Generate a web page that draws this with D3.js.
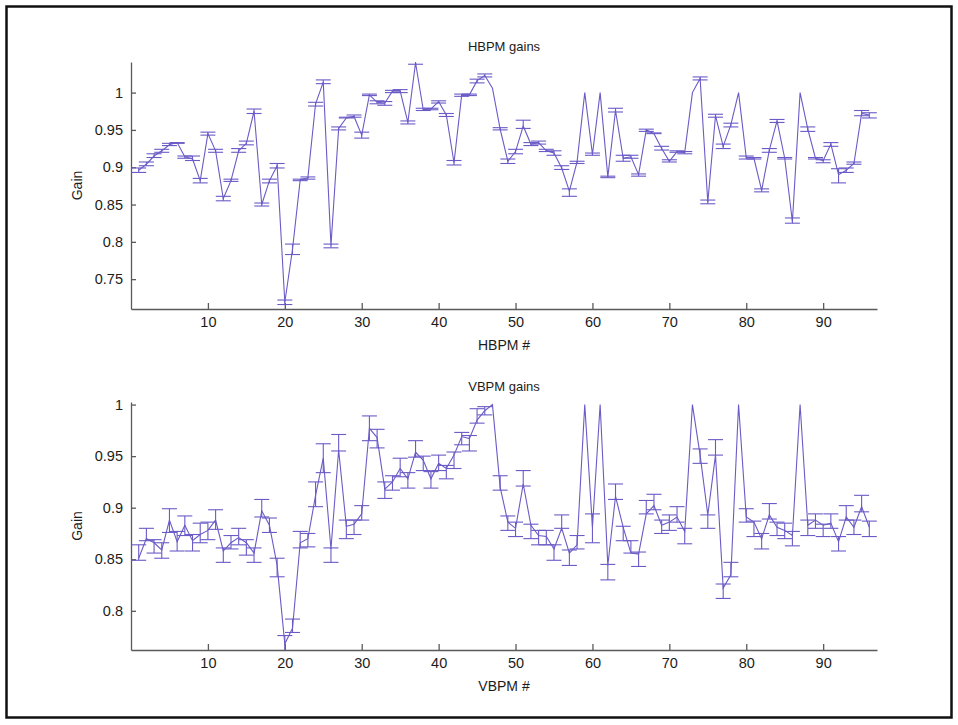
<!DOCTYPE html>
<meta charset="utf-8">
<script src="https://d3js.org/d3.v7.min.js"></script>
<style>
  body { margin: 0; background: #fff; }
  text { font-family: "Liberation Sans", Arial, Helvetica, sans-serif; fill: #1c1c1c; }
  .axis path, .axis line { stroke: #5a5a5a; stroke-width: 1.3px; }
  .axis text { font-size: 14.5px; fill: #1c1c1c; }
</style>
<div id="chart"></div>
<script>

// BPM index (x axis) and tick labels
var bpm = d3.range(1, 97);
var xTicks = [10, 20, 30, 40, 50, 60, 70, 80, 90];
var hTicks = [0.75, 0.8, 0.85, 0.9, 0.95, 1];
var vTicks = [0.8, 0.85, 0.9, 0.95, 1];

// HBPM gains, lower / upper end of error bar (null = no error bar)
var hGain = [0.896,0.904,0.915,0.922,0.930,0.933,0.914,0.911,0.882,0.945,
             0.922,0.858,0.882,0.922,0.932,0.975,0.850,0.882,0.902,0.719,
             0.790,0.883,0.886,0.985,1.014,0.795,0.952,0.966,0.968,0.943,
             0.997,0.987,0.986,1.002,1.002,0.960,1.040,0.977,0.978,0.988,
             0.970,0.906,0.997,0.997,1.016,1.023,1.006,0.951,0.908,0.921,
             0.955,0.931,0.933,0.922,0.919,0.899,0.868,0.907,1.000,0.917,
             1.000,0.887,0.976,0.912,0.914,0.890,0.950,0.945,0.925,0.908,
             0.921,0.920,1.000,1.019,0.853,0.969,0.928,0.957,1.000,0.913,
             0.912,0.869,0.923,0.962,0.912,0.827,1.000,0.951,0.912,0.909,
             0.931,0.890,0.896,0.905,0.972,0.970];
var hLow  = [0.893,0.902,0.913,0.920,0.929,0.932,0.912,0.909,0.879,0.943,
             0.920,0.855,0.881,0.920,0.930,0.972,0.848,0.879,0.899,0.716,
             0.783,0.882,0.884,0.982,1.012,0.792,0.950,0.966,0.967,0.939,
             0.996,0.985,0.983,1.000,1.000,0.958,1.038,0.976,0.977,0.986,
             0.968,0.903,0.995,0.996,1.013,1.021,null,0.950,0.905,0.918,
             0.952,0.929,0.931,0.921,0.916,0.897,0.861,0.905,null,0.916,
             null,0.886,0.974,0.908,0.912,0.888,0.948,0.945,0.923,0.907,
             0.920,0.918,null,1.017,0.851,0.967,0.925,0.954,null,0.911,
             0.911,0.867,0.920,0.960,0.911,0.825,null,0.948,0.911,0.906,
             0.928,0.879,0.893,0.904,0.969,0.966];
var hHigh = [0.899,0.907,0.918,0.924,0.932,0.933,0.915,0.915,0.885,0.947,
             0.924,0.861,0.884,0.925,0.935,0.978,0.852,0.884,0.905,0.722,
             0.797,0.884,0.887,0.987,1.017,0.797,0.954,0.967,0.970,0.947,
             0.998,0.989,0.988,1.003,1.004,0.962,1.042,0.979,0.979,0.989,
             0.972,0.909,0.998,0.998,1.018,1.025,null,0.953,0.911,0.924,
             0.963,0.933,0.935,0.924,0.922,0.902,0.871,0.908,null,0.919,
             null,0.888,0.979,0.916,0.916,0.891,0.951,0.946,0.928,0.910,
             0.922,0.921,null,1.021,0.856,0.971,0.931,0.959,null,0.915,
             0.913,0.871,0.925,0.964,0.913,0.832,null,0.954,0.913,0.910,
             0.933,0.898,0.899,0.907,0.976,0.973];

// VBPM gains, lower / upper end of error bar
var vGain = [0.851,0.870,0.866,0.859,0.888,0.867,0.883,0.868,0.874,0.878,
             0.888,0.858,0.866,0.871,0.866,0.856,0.897,0.883,0.844,0.768,
             0.783,0.866,0.870,0.912,0.948,0.860,0.956,0.882,0.884,0.894,
             0.977,0.968,0.918,0.925,0.938,0.928,0.954,0.946,0.928,0.943,
             0.938,0.951,0.969,0.967,0.985,0.994,1.000,0.920,0.886,0.880,
             0.923,0.883,0.873,0.872,0.860,0.880,0.856,0.864,1.000,0.881,
             1.000,0.844,0.911,0.881,0.856,0.855,0.894,0.902,0.883,0.886,
             0.891,0.877,1.000,0.951,0.893,0.951,0.822,0.835,1.000,0.891,
             0.886,0.870,0.893,0.881,0.878,0.873,1.000,0.883,0.888,0.883,
             0.885,0.867,0.891,0.881,0.901,0.881];
var vLow  = [0.849,0.868,0.856,0.851,0.876,0.858,0.873,0.858,0.866,0.869,
             0.879,0.847,0.860,0.864,0.854,0.847,0.891,0.876,0.833,0.760,
             0.779,0.861,0.862,0.901,0.934,0.847,0.955,0.870,0.874,0.888,
             0.965,0.958,0.909,0.917,0.930,0.919,0.949,0.936,0.919,0.936,
             0.928,0.938,0.961,0.955,0.982,0.990,null,0.917,0.878,0.872,
             0.921,0.870,0.864,0.864,0.849,0.880,0.844,0.860,null,0.866,
             null,0.830,0.908,0.868,0.856,0.843,0.894,0.898,0.875,0.878,
             0.886,0.865,null,0.943,0.880,0.951,0.812,0.833,null,0.886,
             0.872,0.860,0.889,0.873,0.870,0.863,null,0.873,0.880,0.872,
             0.880,0.858,0.888,0.874,0.896,0.872];
var vHigh = [0.864,0.880,0.869,0.866,0.899,0.877,0.892,0.874,0.885,0.886,
             0.898,0.861,0.873,0.880,0.869,0.861,0.908,0.890,0.851,0.776,
             0.792,0.877,0.875,0.925,0.962,0.861,0.971,0.888,0.888,0.902,
             0.989,0.976,0.925,0.931,0.948,0.934,0.965,0.950,0.935,0.951,
             0.941,0.954,0.973,0.970,0.996,0.998,null,0.931,0.892,0.886,
             0.936,0.884,0.878,0.878,0.864,0.893,0.859,0.873,null,0.894,
             null,0.845,0.923,0.882,0.868,0.857,0.907,0.913,0.888,0.893,
             0.901,0.880,null,0.957,0.893,0.966,0.826,0.847,null,0.899,
             0.887,0.875,0.904,0.886,0.885,0.877,null,0.888,0.894,0.884,
             0.894,0.872,0.902,0.888,0.912,0.887];

var W = 958, H = 725;
var lineColor = "#6a5bc6";

var svg = d3.select("#chart")
  .append("svg")
    .attr("width", W)
    .attr("height", H);

// outer frame
svg.append("rect")
  .attr("x", 6.5).attr("y", 6.5)
  .attr("width", 945).attr("height", 711)
  .attr("fill", "#fff")
  .attr("stroke", "#111")
  .attr("stroke-width", 2.5);

function drawPanel(p) {
  var x = d3.scaleLinear().domain([0, 97]).range([131, 877]);
  var y = d3.scaleLinear().domain(p.yDomain).range([p.bottom, p.top]);

  var g = svg.append("g");

  g.append("clipPath").attr("id", p.id)
    .append("rect")
      .attr("x", 131).attr("y", p.top)
      .attr("width", 746).attr("height", p.bottom - p.top);

  // axes, ticks pointing inwards
  g.append("g")
    .attr("class", "axis")
    .attr("transform", "translate(131,0)")
    .call(d3.axisLeft(y).tickValues(p.yTicks).tickSizeInner(-5).tickSizeOuter(0)
      .tickPadding(8).tickFormat(function(d) { return String(d); }));

  g.append("g")
    .attr("class", "axis")
    .attr("transform", "translate(0," + p.bottom + ")")
    .call(d3.axisBottom(x).tickValues(xTicks).tickSizeInner(-6).tickSizeOuter(0)
      .tickPadding(8));

  g.selectAll(".axis .domain").attr("stroke", "#5a5a5a");

  var plot = g.append("g").attr("clip-path", "url(#" + p.id + ")");

  // gain line
  var line = d3.line()
    .x(function(d, i) { return x(bpm[i]); })
    .y(function(d) { return y(d); });

  plot.append("path")
    .datum(p.gain)
    .attr("fill", "none")
    .attr("stroke", lineColor)
    .attr("stroke-width", 1.1)
    .attr("d", line);

  // error bars
  var bars = bpm.map(function(b, i) { return {x: b, lo: p.low[i], hi: p.high[i]}; })
    .filter(function(d) { return d.lo != null; });

  var eb = plot.append("g")
    .attr("stroke", lineColor)
    .attr("stroke-width", 1.1)
    .selectAll("g")
    .data(bars)
    .enter().append("g");

  eb.append("line")
    .attr("x1", function(d) { return x(d.x); })
    .attr("x2", function(d) { return x(d.x); })
    .attr("y1", function(d) { return y(d.lo); })
    .attr("y2", function(d) { return y(d.hi); });
  eb.append("line")
    .attr("x1", function(d) { return x(d.x) - 7.5; })
    .attr("x2", function(d) { return x(d.x) + 7.5; })
    .attr("y1", function(d) { return y(d.lo); })
    .attr("y2", function(d) { return y(d.lo); });
  eb.append("line")
    .attr("x1", function(d) { return x(d.x) - 7.5; })
    .attr("x2", function(d) { return x(d.x) + 7.5; })
    .attr("y1", function(d) { return y(d.hi); })
    .attr("y2", function(d) { return y(d.hi); });

  // title and labels
  g.append("text")
    .attr("x", 504).attr("y", p.top - 11)
    .attr("text-anchor", "middle")
    .style("font-size", "13px")
    .text(p.title);

  g.append("text")
    .attr("x", 504).attr("y", p.bottom + 41)
    .attr("text-anchor", "middle")
    .style("font-size", "14px")
    .text(p.xLabel);

  g.append("text")
    .attr("transform", "translate(82," + ((p.top + p.bottom) / 2) + ")rotate(-90)")
    .attr("text-anchor", "middle")
    .style("font-size", "14px")
    .text("Gain");
}

drawPanel({
  id: "clipH", title: "HBPM gains", xLabel: "HBPM #",
  top: 62, bottom: 309, yDomain: [0.71, 1.041], yTicks: hTicks,
  gain: hGain, low: hLow, high: hHigh
});

drawPanel({
  id: "clipV", title: "VBPM gains", xLabel: "VBPM #",
  top: 402, bottom: 650, yDomain: [0.762, 1.0025], yTicks: vTicks,
  gain: vGain, low: vLow, high: vHigh
});

</script>
